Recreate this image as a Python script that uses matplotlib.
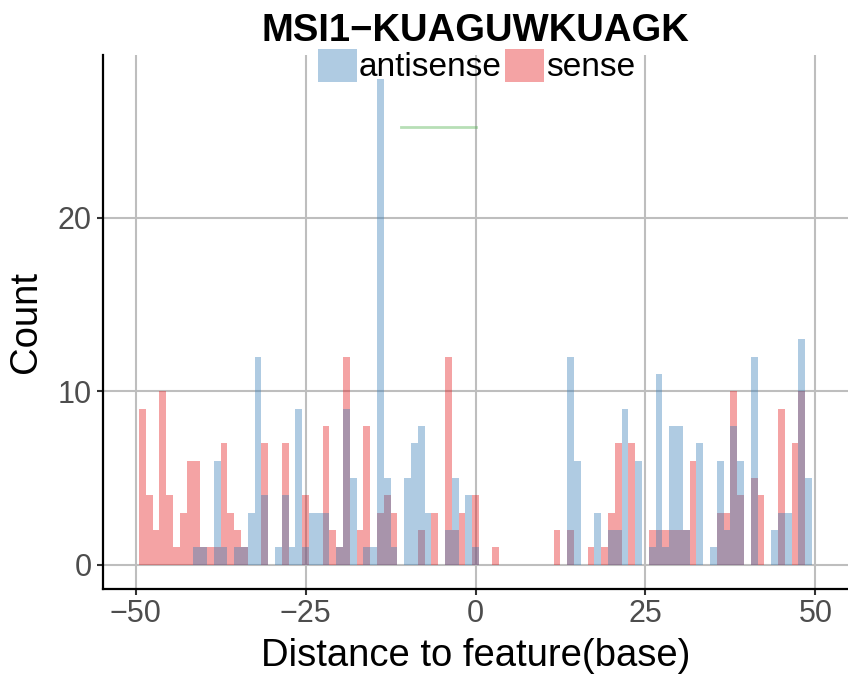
import matplotlib
matplotlib.use("Agg")
import matplotlib.pyplot as plt
from matplotlib.patches import Patch
import numpy as np

plt.rcParams['font.family'] = ['Liberation Sans', 'DejaVu Sans']

# bin centres (binwidth 1)
positions = list(range(-49, 50))

# counts per bin (index 0 -> -49 ... index 98 -> 49)
sense = [9, 4, 2, 10, 4, 1, 3, 6, 6, 1,       # -49 .. -40
         1, 1, 7, 3, 2, 1, 0, 0, 7, 0,        # -39 .. -30
         0, 7, 0, 0, 4, 0, 0, 8, 2, 1,        # -29 .. -20
         12, 0, 2, 8, 0, 3, 4, 3, 0, 0,       # -19 .. -10
         0, 2, 0, 3, 0, 12, 2, 3, 0, 4,       # -9 .. 0
         0, 0, 1, 0, 0, 0, 0, 0, 0, 0,        # 1 .. 10
         0, 2, 0, 2, 0, 0, 1, 0, 1, 3,        # 11 .. 20
         7, 0, 7, 0, 0, 2, 2, 2, 2, 2,        # 21 .. 30
         2, 6, 0, 0, 0, 3, 3, 10, 4, 0,       # 31 .. 40
         5, 4, 0, 0, 9, 0, 7, 10, 0]          # 41 .. 49

antisense = [0, 0, 0, 0, 0, 0, 0, 0, 1, 1,    # -49 .. -40
             0, 6, 1, 0, 1, 1, 3, 12, 4, 0,   # -39 .. -30
             1, 4, 1, 9, 1, 3, 3, 3, 0, 1,    # -29 .. -20
             9, 5, 0, 1, 1, 28, 5, 1, 0, 5,   # -19 .. -10
             7, 8, 3, 0, 0, 2, 5, 0, 4, 1,    # -9 .. 0
             0, 0, 0, 0, 0, 0, 0, 0, 0, 0,    # 1 .. 10
             0, 0, 0, 12, 6, 0, 0, 3, 0, 2,   # 11 .. 20
             2, 9, 0, 6, 0, 1, 11, 1, 8, 8,   # 21 .. 30
             2, 0, 7, 0, 1, 6, 2, 8, 6, 0,    # 31 .. 40
             12, 0, 0, 2, 3, 3, 0, 13, 5]     # 41 .. 49

# green segment near the top
seg_x = [-11, 0]
seg_y = [25.25, 25.25]

title = "MSI1\u2212KUAGUWKUAGK"
xticks = [-50, -25, 0, 25, 50]
yticks = [0, 10, 20]

RED = "#E41A1C"
BLUE = "#377EB8"
GREEN = "#4DAF4A"
ALPHA = 0.4

fig = plt.figure(figsize=(8.48, 6.77), dpi=100)
ax = fig.add_axes([103 / 848, 1 - 589 / 677, 1 - 103 / 848, (589 - 55) / 677])

ax.bar(positions, sense, width=1.0, color=RED, alpha=ALPHA, linewidth=0, zorder=2)
ax.bar(positions, antisense, width=1.0, color=BLUE, alpha=ALPHA, linewidth=0, zorder=3)
ax.plot(seg_x, seg_y, color=GREEN, alpha=ALPHA, linewidth=2, zorder=4)

ax.set_xlim(-54.8, 54.8)
ax.set_ylim(-1.4, 29.4)
ax.set_xticks(xticks)
ax.set_yticks(yticks)

ax.grid(True, color="#BEBEBE", linewidth=1.5, zorder=0)
ax.set_axisbelow(True)

for s in ["top", "right"]:
    ax.spines[s].set_visible(False)
for s in ["left", "bottom"]:
    ax.spines[s].set_linewidth(1.6)
    ax.spines[s].set_color("black")

ax.tick_params(axis="both", labelsize=22, labelcolor="#4D4D4D", color="#333333",
               length=4, width=1.5)
ax.tick_params(axis="x", pad=3)
ax.tick_params(axis="y", pad=4)

ax.set_xlabel("Distance to feature(base)", fontsize=27.5, labelpad=7)
ax.set_ylabel("Count", fontsize=27.5, labelpad=10)

fig.text(475.5 / 848, 1 - 41 / 677, title, ha="center", va="baseline",
         fontsize=27.5, fontweight="bold")

handles = [Patch(facecolor=BLUE, alpha=ALPHA, linewidth=0),
           Patch(facecolor=RED, alpha=ALPHA, linewidth=0)]
fig.legend(handles, ["antisense", "sense"], loc="center",
           bbox_to_anchor=(476.5 / 848, 1 - 66 / 677), ncol=2, frameon=False,
           fontsize=24, handlelength=1.17, handleheight=1.14,
           handletextpad=0.05, columnspacing=0.1, borderpad=0, borderaxespad=0)

fig.savefig("out.png", dpi=100)
